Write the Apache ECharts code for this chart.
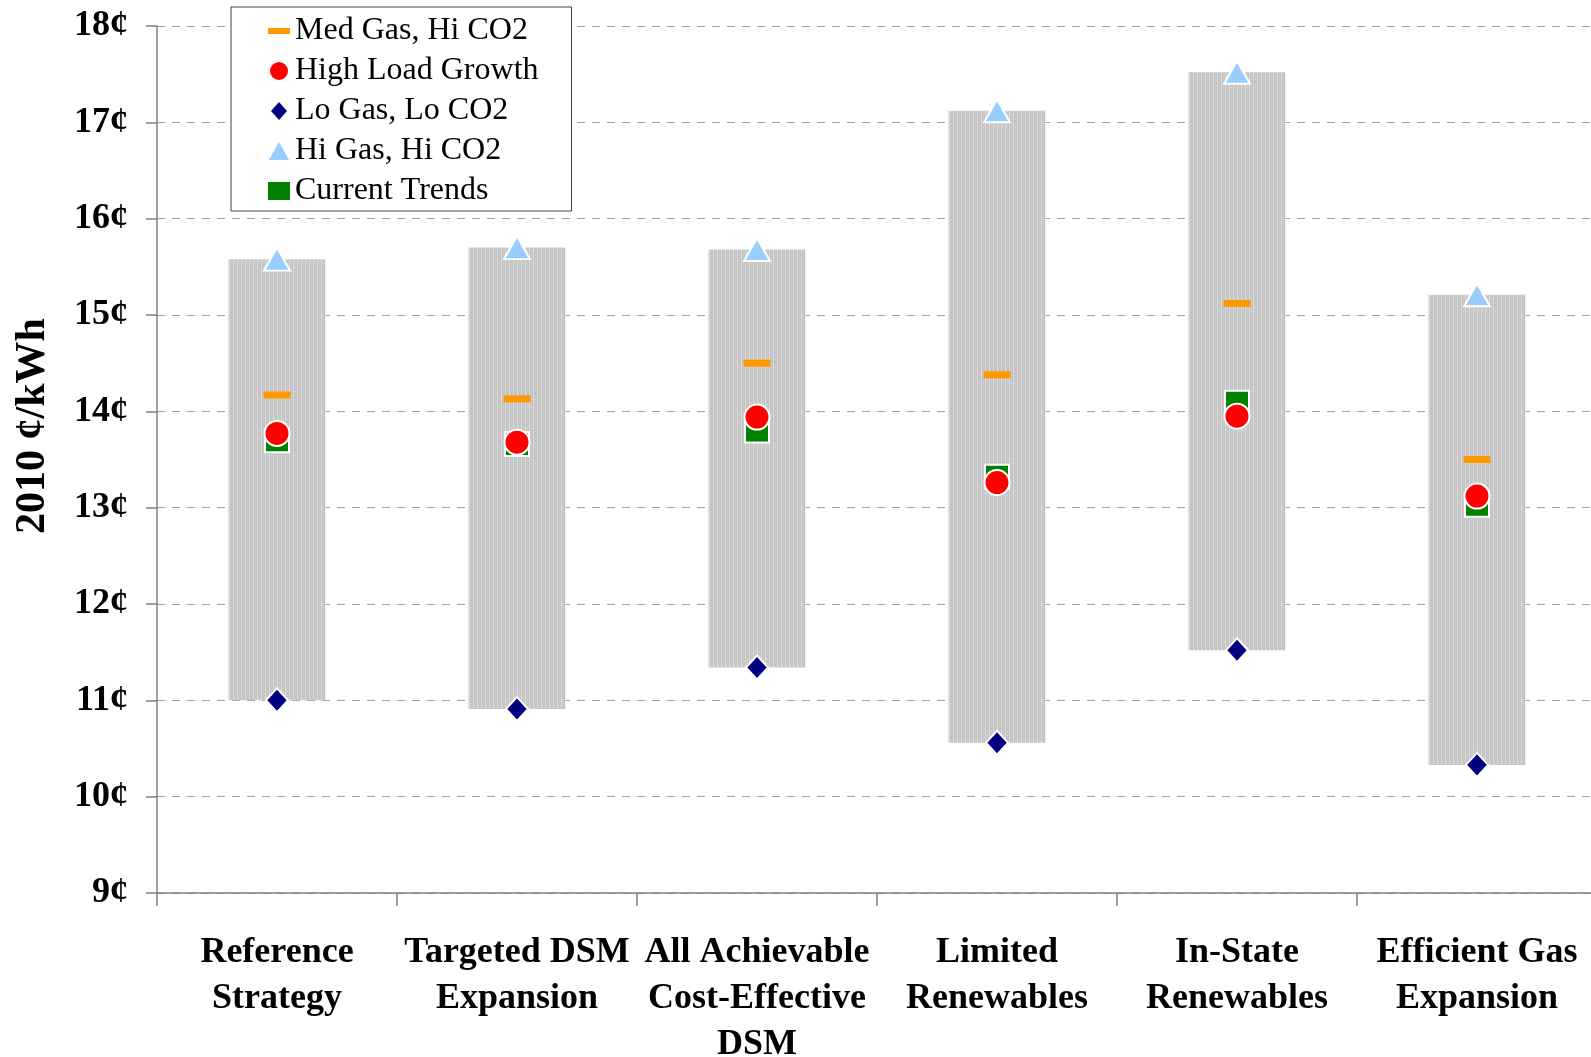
<!DOCTYPE html>
<html>
<head>
<meta charset="utf-8">
<title>Levelized cost by strategy</title>
<script src="https://cdn.jsdelivr.net/npm/echarts@6/dist/echarts.min.js"></script>
<style>
  html, body { margin: 0; padding: 0; background: #fff; }
  #chart { width: 1591px; height: 1057px; }
</style>
</head>
<body>
<div id="chart"></div>
<script>
// Strategies on the x axis
const categories = [
  'Reference\nStrategy',
  'Targeted DSM\nExpansion',
  'All Achievable\nCost-Effective\nDSM',
  'Limited\nRenewables',
  'In-State\nRenewables',
  'Efficient Gas\nExpansion'
];

// Scenario results, 2010 ¢/kWh
const medGasHiCO2   = [14.17, 14.13, 14.50, 14.38, 15.12, 13.50];
const highLoad      = [13.77, 13.68, 13.94, 13.26, 13.95, 13.12];
const loGasLoCO2    = [11.00, 10.91, 11.34, 10.56, 11.52, 10.33];
const hiGasHiCO2    = [15.58, 15.70, 15.68, 17.12, 17.52, 15.21];
const currentTrends = [13.70, 13.66, 13.80, 13.32, 14.09, 13.03];

// Range band runs from the low scenario up to the high scenario
const rangeSpan = hiGasHiCO2.map((v, i) => +(v - loGasLoCO2[i]).toFixed(3));

// Value axis ticks
const yMin = 9, yMax = 18, yStep = 1;

const FONT = '"Liberation Serif", "Times New Roman", serif';

// Fine grey stipple used to fill the range bands
function stipple() {
  const c = document.createElement('canvas');
  c.width = 4; c.height = 4;
  const g = c.getContext('2d');
  g.fillStyle = '#c3c3c3'; g.fillRect(0, 0, 4, 4);
  g.fillStyle = '#d6d6d6'; g.fillRect(1, 0, 1, 4);
  g.fillStyle = '#ececec'; g.fillRect(1, 1, 1, 1);
  g.fillStyle = '#dadada'; g.fillRect(3, 3, 1, 1);
  return c;
}

const chart = echarts.init(document.getElementById('chart'), null, { renderer: 'canvas' });

const markerBorder = { borderColor: '#ffffff', borderWidth: 2, opacity: 1 };

chart.setOption({
  animation: false,
  backgroundColor: '#ffffff',
  grid: { left: 157, right: -6, top: 26, bottom: 164, containLabel: false, outerBoundsMode: 'none' },
  legend: {
    orient: 'vertical',
    left: 231,
    top: 7,
    padding: [8, 33, 4, 37],
    itemGap: 8,
    itemWidth: 22,
    itemHeight: 18,
    borderColor: '#404040',
    borderWidth: 1,
    backgroundColor: '#ffffff',
    textStyle: { fontFamily: FONT, fontSize: 32, color: '#000', lineHeight: 32 },
    data: [
      { name: 'Med Gas, Hi CO2', icon: 'path://M0,0H22V6H0Z', itemStyle: { color: '#FF9900', borderWidth: 0 } },
      { name: 'High Load Growth', icon: 'circle', itemStyle: { color: '#FF0000', borderWidth: 0 } },
      { name: 'Lo Gas, Lo CO2', icon: 'path://M8,0L16,9L8,18L0,9Z', itemStyle: { color: '#000080', borderWidth: 0 } },
      { name: 'Hi Gas, Hi CO2', icon: 'path://M9,0L18,16H0Z', itemStyle: { color: '#99CCFF', borderWidth: 0 } },
      { name: 'Current Trends', icon: 'rect', itemStyle: { color: '#008000', borderWidth: 0 } }
    ]
  },
  xAxis: {
    type: 'category',
    data: categories,
    boundaryGap: true,
    axisLine: { lineStyle: { color: '#808080', width: 1.5 } },
    axisTick: { show: true, length: 13, inside: false, lineStyle: { color: '#808080', width: 1.5 } },
    axisLabel: {
      interval: 0,
      margin: 37,
      fontFamily: FONT,
      fontSize: 36,
      fontWeight: 'bold',
      color: '#000',
      lineHeight: 46
    },
    splitLine: { show: false }
  },
  yAxis: {
    type: 'value',
    min: yMin,
    max: yMax,
    interval: yStep,
    name: '2010 ¢/kWh',
    nameLocation: 'middle',
    nameRotate: 90,
    nameGap: 103,
    nameTextStyle: {
      fontFamily: FONT, fontSize: 42, fontWeight: 'bold', color: '#000',
      padding: [0, 0, 0, 67]
    },
    axisLine: { show: true, lineStyle: { color: '#808080', width: 1.5 } },
    axisTick: { show: true, length: 11, lineStyle: { color: '#808080', width: 1.5 } },
    axisLabel: {
      margin: 29,
      fontFamily: FONT,
      fontSize: 36,
      fontWeight: 'bold',
      color: '#000',
      formatter: v => v + '¢'
    },
    splitLine: { show: true, lineStyle: { color: '#a0a0a0', width: 1, type: [8, 7] } }
  },
  series: [
    {
      name: 'base',
      type: 'bar',
      stack: 'band',
      data: loGasLoCO2,
      barWidth: 97,
      silent: true,
      itemStyle: { color: 'transparent' }
    },
    {
      name: 'range',
      type: 'bar',
      stack: 'band',
      data: rangeSpan,
      barWidth: 97,
      silent: true,
      itemStyle: { color: { image: stipple(), repeat: 'repeat' } }
    },
    {
      name: 'Current Trends',
      type: 'scatter',
      data: currentTrends,
      symbol: 'rect',
      symbolSize: 24,
      itemStyle: Object.assign({ color: '#008000' }, markerBorder)
    },
    {
      name: 'Med Gas, Hi CO2',
      type: 'scatter',
      data: medGasHiCO2,
      symbol: 'rect',
      symbolSize: [27, 7],
      itemStyle: { color: '#FF9900', opacity: 1 }
    },
    {
      name: 'Lo Gas, Lo CO2',
      type: 'scatter',
      data: loGasLoCO2,
      symbol: 'diamond',
      symbolSize: [22, 24],
      itemStyle: Object.assign({ color: '#000080' }, markerBorder)
    },
    {
      name: 'Hi Gas, Hi CO2',
      type: 'scatter',
      data: hiGasHiCO2,
      symbol: 'triangle',
      symbolSize: [26, 23],
      itemStyle: Object.assign({ color: '#99CCFF' }, markerBorder)
    },
    {
      name: 'High Load Growth',
      type: 'scatter',
      data: highLoad,
      symbol: 'circle',
      symbolSize: 25,
      itemStyle: Object.assign({ color: '#FF0000' }, markerBorder)
    }
  ]
});
</script>
</body>
</html>
